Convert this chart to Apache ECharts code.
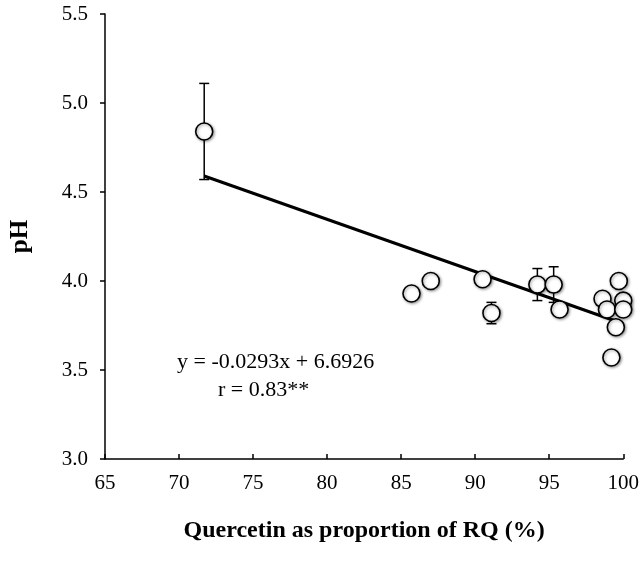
<!DOCTYPE html>
<html>
<head>
<meta charset="utf-8">
<script src="https://cdn.jsdelivr.net/npm/echarts@6/dist/echarts.min.js"></script>
<style>
  html, body { margin: 0; padding: 0; background: #fff; }
  #chart { width: 642px; height: 561px; }
</style>
</head>
<body>
<div id="chart"></div>
<script>
// 数据
const rqPct = [71.7, 85.7, 87.0, 90.5, 91.1, 94.2, 95.3, 95.7, 98.6, 98.9, 99.2, 99.5, 99.7, 100, 100];
const phVal = [4.84, 3.93, 4.00, 4.01, 3.82, 3.98, 3.98, 3.84, 3.90, 3.84, 3.57, 3.74, 4.00, 3.89, 3.84];
const phErr = [0.27, 0, 0, 0, 0.06, 0.09, 0.10, 0, 0, 0, 0, 0, 0, 0, 0];
const trendX = [71.7, 100];
const trendY = [4.59, 3.76];
const xTicks = [65, 70, 75, 80, 85, 90, 95, 100];
const yTicks = [3.0, 3.5, 4.0, 4.5, 5.0, 5.5];

const serif = '"Liberation Serif", "Times New Roman", serif';
const chart = echarts.init(document.getElementById('chart'));

const points = rqPct.map((x, i) => [x, phVal[i]]);
const errData = rqPct.map((x, i) => [x, phVal[i] - phErr[i], phVal[i] + phErr[i]]).filter((d, i) => phErr[i] > 0);

const option = {
    backgroundColor: '#fff',
    animation: false,
    grid: { left: 105, right: 18, top: 14, bottom: 102 },
    xAxis: {
        type: 'value',
        min: xTicks[0],
        max: xTicks[xTicks.length - 1],
        interval: 5,
        name: 'Quercetin as proportion of RQ (%)',
        nameLocation: 'middle',
        nameGap: 60,
        nameTextStyle: { fontFamily: serif, fontWeight: 'bold', fontSize: 24, color: '#000' },
        axisLine: { lineStyle: { color: '#000', width: 1.5 } },
        axisTick: { inside: true, length: 5, lineStyle: { color: '#000', width: 1.5 } },
        axisLabel: { fontFamily: serif, fontSize: 21, color: '#000', margin: 14 },
        splitLine: { show: false }
    },
    yAxis: {
        type: 'value',
        min: yTicks[0],
        max: yTicks[yTicks.length - 1],
        interval: 0.5,
        name: 'pH',
        nameLocation: 'middle',
        nameGap: 72,
        nameTextStyle: { fontFamily: serif, fontWeight: 'bold', fontSize: 25, color: '#000' },
        axisLine: { show: true, lineStyle: { color: '#000', width: 1.5 } },
        axisTick: { show: true, length: 5, lineStyle: { color: '#000', width: 1.5 } },
        axisLabel: { fontFamily: serif, fontSize: 21, color: '#000', margin: 17,
            formatter: v => v.toFixed(1) },
        splitLine: { show: false }
    },
    series: [
        {
            // 误差线
            type: 'custom',
            z: 1,
            data: errData,
            renderItem: (params, api) => {
                const lo = api.coord([api.value(0), api.value(1)]);
                const hi = api.coord([api.value(0), api.value(2)]);
                const w = 5;
                const st = { stroke: '#000', lineWidth: 1.5 };
                return {
                    type: 'group',
                    children: [
                        { type: 'line', shape: { x1: lo[0], y1: lo[1], x2: hi[0], y2: hi[1] }, style: st },
                        { type: 'line', shape: { x1: hi[0] - w, y1: hi[1], x2: hi[0] + w, y2: hi[1] }, style: st },
                        { type: 'line', shape: { x1: lo[0] - w, y1: lo[1], x2: lo[0] + w, y2: lo[1] }, style: st }
                    ]
                };
            }
        },
        {
            // 趋势线
            type: 'line',
            z: 2,
            data: trendX.map((x, i) => [x, trendY[i]]),
            symbol: 'none',
            lineStyle: { color: '#000', width: 3 }
        },
        {
            type: 'scatter',
            z: 3,
            data: points,
            symbol: 'circle',
            symbolSize: 17,
            itemStyle: {
                color: '#fff',
                opacity: 1,
                borderColor: '#000',
                borderWidth: 1.6,
                shadowBlur: 3,
                shadowColor: 'rgba(0,0,0,0.4)',
                shadowOffsetX: 1,
                shadowOffsetY: 1
            }
        }
    ],
    graphic: [
        {
            type: 'text',
            left: 177,
            top: 351,
            style: { text: 'y = -0.0293x + 6.6926', fontFamily: serif, fontSize: 22, fill: '#000' }
        },
        {
            type: 'text',
            left: 218,
            top: 379,
            style: { text: 'r = 0.83**', fontFamily: serif, fontSize: 22, fill: '#000' }
        }
    ]
};

chart.setOption(option);
</script>
</body>
</html>
